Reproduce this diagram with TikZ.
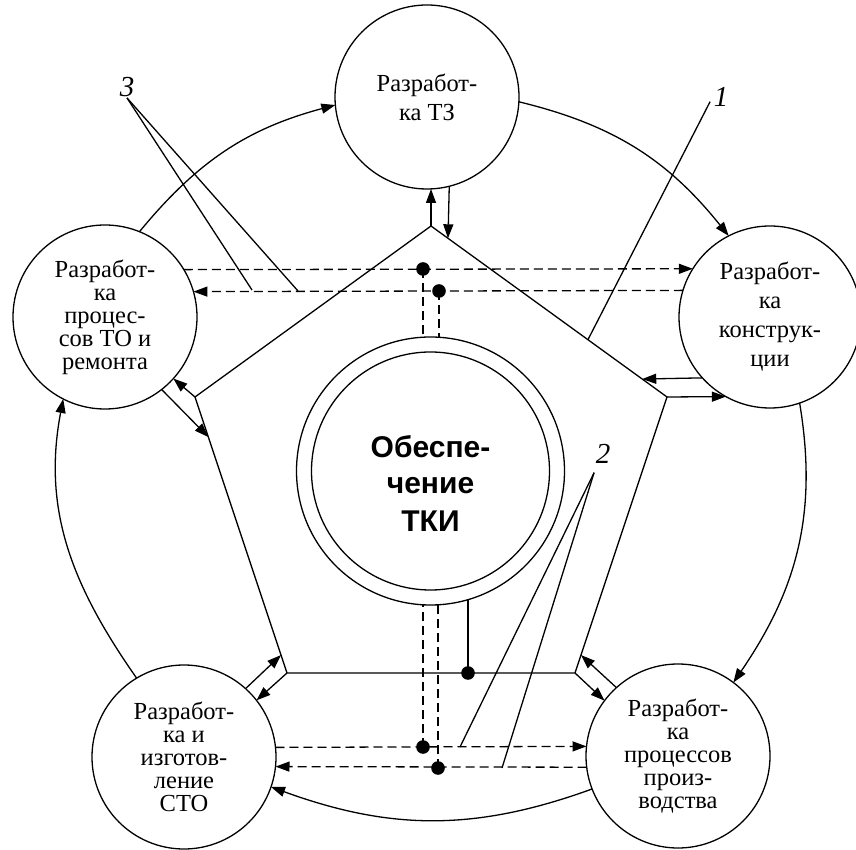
\documentclass[tikz,border=0pt]{standalone}
\usepackage{fontspec}
\setmainfont{Liberation Serif}
\newfontfamily\sansfont{Liberation Sans}
\usetikzlibrary{arrows.meta,calc}
\begin{document}
\begin{tikzpicture}[x=1pt,y=1pt,line width=1.3pt,
  stage/.style={draw, circle, minimum size=184pt, inner sep=0pt, outer sep=0pt, align=center,
                font=\fontsize{24.5}{23}\selectfont},
  stagewide/.style={stage, font=\fontsize{24.5}{29}\selectfont},
  ring/.style={draw, circle, inner sep=0pt, outer sep=0pt},
  arr/.style={-{Triangle[length=14pt,width=10pt]}},
  dline/.style={dash pattern=on 9pt off 5pt},
  numlbl/.style={font=\fontsize{29}{29}\selectfont\itshape, inner sep=0pt, anchor=base},
]
\useasboundingbox (0,0) rectangle (856,849);

% stage circles
\node[stagewide] (T) at (427,752) {Разработ-\\ка ТЗ};
\node[stagewide, minimum size=182pt] (R) at (770,532) {Разработ-\\ка\\конструк-\\ции};
\node[stage] (L) at (105,532) {Разработ-\\ка\\процес-\\сов ТО и\\ремонта};
\node[stage] (BL) at (184,92) {Разработ-\\ка и\\изготов-\\ление\\СТО};
\node[stage] (BR) at (678,93) {Разработ-\\ка\\процессов\\произ-\\водства};

% centre
\node[ring, minimum size=268pt] (C) at (430.5,378) {};
\node[ring, minimum size=238pt] (Ci) at (430.5,378) {};
\node[font=\sansfont\bfseries\fontsize{30}{37}\selectfont, align=center] (Ct) at (430.5,366) {Обеспе-\\чение\\ТКИ};

% pentagon
\coordinate (pT) at (431,623);
\coordinate (pR) at (667,452);
\coordinate (pBR) at (575,176);
\coordinate (pBL) at (287,176);
\coordinate (pL) at (195,452);
\draw (pT) -- (pR) -- (pBR) -- (pBL) -- (pL) -- cycle;

% exchange arrows at the vertices
\draw[arr] (pT) -- (pT |- T.south);
\draw[arr] (T.-76.8) -- ($(pT)!0.072!(pR)$);
\draw[arr] (R.222.9) -- ($(pT)!0.895!(pR)$);
\draw[arr] (pR) -- (R.241.5);
\draw[arr] (pL) -- (L.-42.5);
\draw[arr] (L.-52) -- ($(pL)!0.145!(pBL)$);
\draw[arr] (BL.48) -- ($(pL)!0.935!(pBL)$);
\draw[arr] (pBL) -- (BL.38.6);
\draw[arr] (BR.132) -- ($(pR)!0.935!(pBR)$);
\draw[arr] (pBR) -- (BR.143);

% outer cycle
\draw[arr] (L.68) to[out=50.5, in=195] (T.185);
\draw[arr] (T.-3.7) to[out=-13.6, in=128.7] (R.117.1);
\draw[arr] (R.-71.7) to[out=-80.5, in=55.6] (BR.53.8);
\draw[arr] (BR.201.1) to[out=200, in=-20] (BL.-19.9);
\draw[arr] (BL.121.5) to[out=125, in=259.2] (L.243.2);

% dashed information lines
\draw[dline, arr] (L.31.4) -- (R.148.2);
\draw[dline, arr] (R.163.4) -- (L.16.4);
\draw[dline, arr] (BL.6.2) -- (BR.174.4);
\draw[dline, arr] (BR.187.5) -- (BL.-6.9);

\coordinate (d1) at (423,580);
\coordinate (d2) at (439,558);
\coordinate (d3) at (423,102);
\coordinate (d4) at (438,81);
\coordinate (d5) at (468,176);
\draw[dline] (d1) -- (d1 |- C.north);
\draw[dline] (d2) -- (d2 |- C.north);
\draw[dline] (d3) -- (d3 |- C.south);
\draw[dline] (d4) -- (d4 |- C.south);
\draw (d5) -- (d5 |- C.-73.75);
\foreach \d in {d1,d2,d3,d4,d5} \fill (\d) circle (6.8pt);

% number labels with leader lines
\node[numlbl] (n3) at (127,752) {3};
\node[numlbl] (n1) at (721,742) {1};
\node[numlbl] (n2) at (603,385) {2};
\coordinate (a3) at (252,559);
\coordinate (b3) at (298,558);
\coordinate (a2) at (460,102);
\coordinate (b2) at (502,81);
\coordinate (s2) at ($(n2.south west)+(-1,-8)$);
\coordinate (s1) at ($(n1.south west)+(-3,6)$);
\draw (n3.south) -- (a3);
\draw (n3.south) -- (b3);
\draw (s1) -- ($(pT)!0.665!(pR)$);
\draw (s2) -- (a2);
\draw (s2) -- (b2);
\end{tikzpicture}
\end{document}
